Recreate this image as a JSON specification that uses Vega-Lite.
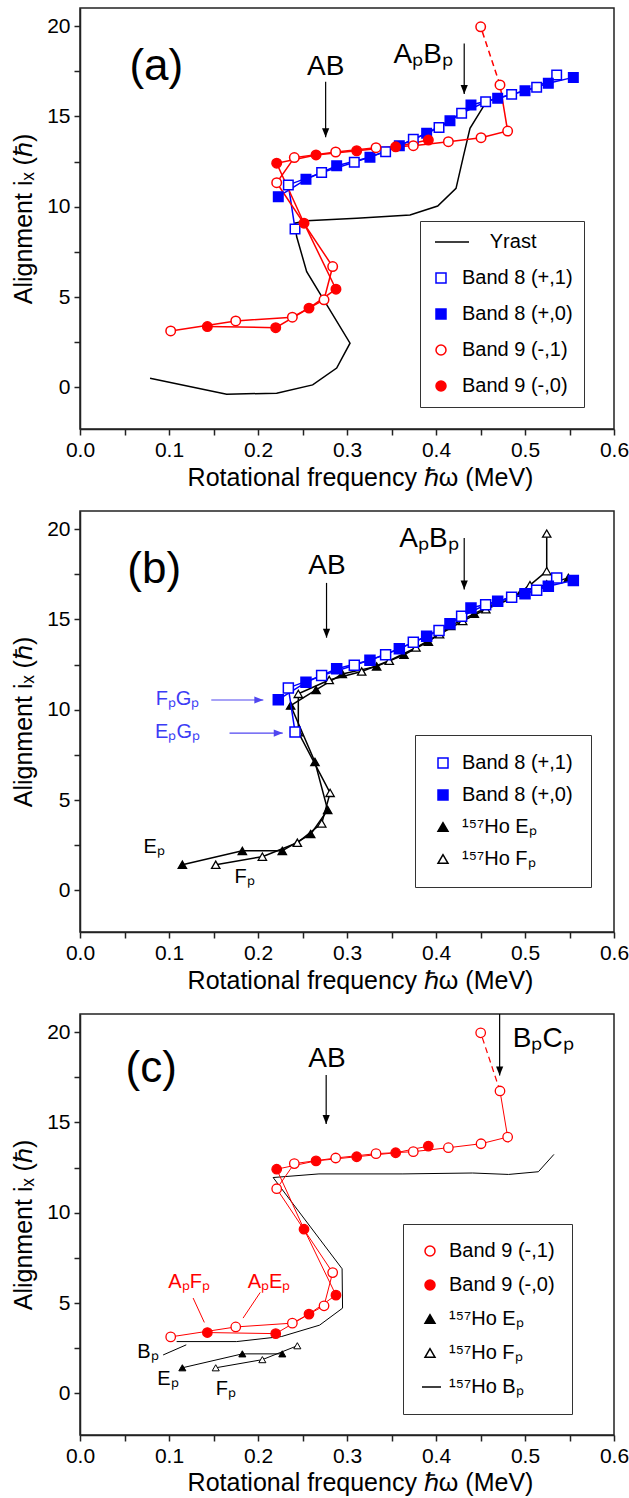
{
"$schema":"https://vega.github.io/schema/vega-lite/v6.json",
"padding":{"left":10,"top":7,"right":5,"bottom":5},
"config":{
 "font":"Liberation Sans",
 "view":{"stroke":"#222222","strokeWidth":1.5},
 "axis":{"domainColor":"#222222","domainWidth":1.5,"tickColor":"#222222","tickWidth":1.5,"tickSize":6,"labelFont":"Liberation Sans","labelFontSize":21,"labelColor":"black","titleFont":"Liberation Sans","titleFontSize":25,"titleFontWeight":"normal","titleColor":"black","grid":false,"labelOverlap":false},
 "legend":{"labelFont":"Liberation Sans","labelFontSize":20,"labelColor":"black","strokeColor":"#333333","fillColor":"white","symbolStrokeWidth":1.5,"labelLimit":300},
 "text":{"font":"Liberation Sans","baseline":"alphabetic"}
},
"datasets":{
 "bands":[
  {"series":"Band 8 (+,1)","i":1,"x":0.2416,"y":8.77,"solid":1,"dash":0},
  {"series":"Band 8 (+,1)","i":2,"x":0.2341,"y":11.21,"solid":1,"dash":0},
  {"series":"Band 8 (+,1)","i":3,"x":0.2715,"y":11.89,"solid":1,"dash":0},
  {"series":"Band 8 (+,1)","i":4,"x":0.3082,"y":12.46,"solid":1,"dash":0},
  {"series":"Band 8 (+,1)","i":5,"x":0.3434,"y":13.05,"solid":1,"dash":0},
  {"series":"Band 8 (+,1)","i":6,"x":0.3745,"y":13.73,"solid":1,"dash":0},
  {"series":"Band 8 (+,1)","i":7,"x":0.4034,"y":14.38,"solid":1,"dash":0},
  {"series":"Band 8 (+,1)","i":8,"x":0.4288,"y":15.17,"solid":1,"dash":0},
  {"series":"Band 8 (+,1)","i":9,"x":0.4558,"y":15.81,"solid":1,"dash":0},
  {"series":"Band 8 (+,1)","i":10,"x":0.4850,"y":16.22,"solid":1,"dash":0},
  {"series":"Band 8 (+,1)","i":11,"x":0.5131,"y":16.61,"solid":1,"dash":0},
  {"series":"Band 8 (+,1)","i":12,"x":0.5356,"y":17.29,"solid":1,"dash":0},
  {"series":"Band 8 (+,0)","i":1,"x":0.2228,"y":10.56,"solid":1,"dash":0},
  {"series":"Band 8 (+,0)","i":2,"x":0.2539,"y":11.52,"solid":1,"dash":0},
  {"series":"Band 8 (+,0)","i":3,"x":0.2884,"y":12.27,"solid":1,"dash":0},
  {"series":"Band 8 (+,0)","i":4,"x":0.3258,"y":12.74,"solid":1,"dash":0},
  {"series":"Band 8 (+,0)","i":5,"x":0.3588,"y":13.38,"solid":1,"dash":0},
  {"series":"Band 8 (+,0)","i":6,"x":0.3895,"y":14.07,"solid":1,"dash":0},
  {"series":"Band 8 (+,0)","i":7,"x":0.4157,"y":14.76,"solid":1,"dash":0},
  {"series":"Band 8 (+,0)","i":8,"x":0.4393,"y":15.63,"solid":1,"dash":0},
  {"series":"Band 8 (+,0)","i":9,"x":0.4693,"y":16.00,"solid":1,"dash":0},
  {"series":"Band 8 (+,0)","i":10,"x":0.5000,"y":16.42,"solid":1,"dash":0},
  {"series":"Band 8 (+,0)","i":11,"x":0.5262,"y":16.83,"solid":1,"dash":0},
  {"series":"Band 8 (+,0)","i":12,"x":0.5543,"y":17.16,"solid":1,"dash":0},
  {"series":"Band 9 (-,1)","i":1,"x":0.1019,"y":3.13,"solid":1,"dash":0},
  {"series":"Band 9 (-,1)","i":2,"x":0.1750,"y":3.68,"solid":1,"dash":0},
  {"series":"Band 9 (-,1)","i":3,"x":0.2386,"y":3.89,"solid":1,"dash":0},
  {"series":"Band 9 (-,1)","i":4,"x":0.2742,"y":4.85,"solid":1,"dash":0},
  {"series":"Band 9 (-,1)","i":5,"x":0.2839,"y":6.69,"solid":1,"dash":0},
  {"series":"Band 9 (-,1)","i":6,"x":0.2210,"y":11.33,"solid":1,"dash":0},
  {"series":"Band 9 (-,1)","i":7,"x":0.2408,"y":12.72,"solid":1,"dash":0},
  {"series":"Band 9 (-,1)","i":8,"x":0.2873,"y":13.03,"solid":1,"dash":0},
  {"series":"Band 9 (-,1)","i":9,"x":0.3326,"y":13.27,"solid":1,"dash":0},
  {"series":"Band 9 (-,1)","i":10,"x":0.3745,"y":13.38,"solid":1,"dash":0},
  {"series":"Band 9 (-,1)","i":11,"x":0.4139,"y":13.60,"solid":1,"dash":0},
  {"series":"Band 9 (-,1)","i":12,"x":0.4506,"y":13.82,"solid":1,"dash":0},
  {"series":"Band 9 (-,1)","i":13,"x":0.4805,"y":14.19,"solid":1,"dash":0},
  {"series":"Band 9 (-,1)","i":14,"x":0.4719,"y":16.74,"solid":1,"dash":1},
  {"series":"Band 9 (-,1)","i":15,"x":0.4502,"y":19.96,"solid":0,"dash":1},
  {"series":"Band 9 (-,0)","i":1,"x":0.1431,"y":3.37,"solid":1,"dash":0},
  {"series":"Band 9 (-,0)","i":2,"x":0.2199,"y":3.31,"solid":1,"dash":0},
  {"series":"Band 9 (-,0)","i":3,"x":0.2573,"y":4.39,"solid":1,"dash":0},
  {"series":"Band 9 (-,0)","i":4,"x":0.2876,"y":5.44,"solid":1,"dash":0},
  {"series":"Band 9 (-,0)","i":5,"x":0.2517,"y":9.09,"solid":1,"dash":0},
  {"series":"Band 9 (-,0)","i":6,"x":0.2210,"y":12.41,"solid":1,"dash":0},
  {"series":"Band 9 (-,0)","i":7,"x":0.2652,"y":12.87,"solid":1,"dash":0},
  {"series":"Band 9 (-,0)","i":8,"x":0.3109,"y":13.10,"solid":1,"dash":0},
  {"series":"Band 9 (-,0)","i":9,"x":0.3547,"y":13.32,"solid":1,"dash":0},
  {"series":"Band 9 (-,0)","i":10,"x":0.3914,"y":13.69,"solid":1,"dash":0}
 ],
 "yrast":[
  {"series":"Yrast","i":1,"x":0.0787,"y":0.51},
  {"series":"Yrast","i":2,"x":0.1648,"y":-0.37},
  {"series":"Yrast","i":3,"x":0.2210,"y":-0.32},
  {"series":"Yrast","i":4,"x":0.2614,"y":0.14},
  {"series":"Yrast","i":5,"x":0.2884,"y":1.07},
  {"series":"Yrast","i":6,"x":0.3034,"y":2.45},
  {"series":"Yrast","i":7,"x":0.2547,"y":6.41},
  {"series":"Yrast","i":8,"x":0.2434,"y":8.35},
  {"series":"Yrast","i":9,"x":0.2416,"y":9.09},
  {"series":"Yrast","i":10,"x":0.2547,"y":9.22},
  {"series":"Yrast","i":11,"x":0.3110,"y":9.36},
  {"series":"Yrast","i":12,"x":0.3708,"y":9.55},
  {"series":"Yrast","i":13,"x":0.4019,"y":10.04},
  {"series":"Yrast","i":14,"x":0.4225,"y":11.02},
  {"series":"Yrast","i":15,"x":0.4307,"y":12.77},
  {"series":"Yrast","i":16,"x":0.4382,"y":14.34},
  {"series":"Yrast","i":17,"x":0.4532,"y":15.54}
 ],
 "ho157":[
  {"series":"¹⁵⁷Ho Eₚ","i":1,"x":0.1150,"y":1.42},
  {"series":"¹⁵⁷Ho Eₚ","i":2,"x":0.1824,"y":2.19},
  {"series":"¹⁵⁷Ho Eₚ","i":3,"x":0.2273,"y":2.19},
  {"series":"¹⁵⁷Ho Eₚ","i":4,"x":0.2592,"y":3.12},
  {"series":"¹⁵⁷Ho Eₚ","i":5,"x":0.2783,"y":4.45},
  {"series":"¹⁵⁷Ho Eₚ","i":6,"x":0.2640,"y":7.11},
  {"series":"¹⁵⁷Ho Eₚ","i":7,"x":0.2367,"y":10.23},
  {"series":"¹⁵⁷Ho Eₚ","i":8,"x":0.2652,"y":11.10},
  {"series":"¹⁵⁷Ho Eₚ","i":9,"x":0.2947,"y":11.98},
  {"series":"¹⁵⁷Ho Eₚ","i":10,"x":0.3333,"y":12.40},
  {"series":"¹⁵⁷Ho Eₚ","i":11,"x":0.3640,"y":13.04},
  {"series":"¹⁵⁷Ho Eₚ","i":12,"x":0.3914,"y":13.77},
  {"series":"¹⁵⁷Ho Eₚ","i":13,"x":0.4165,"y":14.64},
  {"series":"¹⁵⁷Ho Eₚ","i":14,"x":0.4430,"y":15.32},
  {"series":"¹⁵⁷Ho Eₚ","i":15,"x":0.4680,"y":15.92},
  {"series":"¹⁵⁷Ho Eₚ","i":16,"x":0.4950,"y":16.47},
  {"series":"¹⁵⁷Ho Eₚ","i":17,"x":0.5244,"y":16.94},
  {"series":"¹⁵⁷Ho Eₚ","i":18,"x":0.5487,"y":17.30},
  {"series":"¹⁵⁷Ho Fₚ","i":1,"x":0.1525,"y":1.42},
  {"series":"¹⁵⁷Ho Fₚ","i":2,"x":0.2049,"y":1.87},
  {"series":"¹⁵⁷Ho Fₚ","i":3,"x":0.2442,"y":2.64},
  {"series":"¹⁵⁷Ho Fₚ","i":4,"x":0.2716,"y":3.71},
  {"series":"¹⁵⁷Ho Fₚ","i":5,"x":0.2810,"y":5.40},
  {"series":"¹⁵⁷Ho Fₚ","i":6,"x":0.2453,"y":8.75},
  {"series":"¹⁵⁷Ho Fₚ","i":7,"x":0.2453,"y":10.88},
  {"series":"¹⁵⁷Ho Fₚ","i":8,"x":0.2800,"y":11.65},
  {"series":"¹⁵⁷Ho Fₚ","i":9,"x":0.3165,"y":12.12},
  {"series":"¹⁵⁷Ho Fₚ","i":10,"x":0.3475,"y":12.71},
  {"series":"¹⁵⁷Ho Fₚ","i":11,"x":0.3775,"y":13.44},
  {"series":"¹⁵⁷Ho Fₚ","i":12,"x":0.4040,"y":14.18},
  {"series":"¹⁵⁷Ho Fₚ","i":13,"x":0.4300,"y":14.91},
  {"series":"¹⁵⁷Ho Fₚ","i":14,"x":0.4560,"y":15.56},
  {"series":"¹⁵⁷Ho Fₚ","i":15,"x":0.4850,"y":16.16},
  {"series":"¹⁵⁷Ho Fₚ","i":16,"x":0.5056,"y":16.90},
  {"series":"¹⁵⁷Ho Fₚ","i":17,"x":0.5244,"y":17.67},
  {"series":"¹⁵⁷Ho Fₚ","i":18,"x":0.5244,"y":19.75}
 ],
 "ho157Bp":[
  {"series":"¹⁵⁷Ho Bₚ","i":1,"x":0.1086,"y":2.87},
  {"series":"¹⁵⁷Ho Bₚ","i":2,"x":0.1760,"y":2.87},
  {"series":"¹⁵⁷Ho Bₚ","i":3,"x":0.2265,"y":3.15},
  {"series":"¹⁵⁷Ho Bₚ","i":4,"x":0.2692,"y":3.78},
  {"series":"¹⁵⁷Ho Bₚ","i":5,"x":0.2950,"y":4.72},
  {"series":"¹⁵⁷Ho Bₚ","i":6,"x":0.2945,"y":6.90},
  {"series":"¹⁵⁷Ho Bₚ","i":7,"x":0.2170,"y":11.95},
  {"series":"¹⁵⁷Ho Bₚ","i":8,"x":0.2685,"y":12.15},
  {"series":"¹⁵⁷Ho Bₚ","i":9,"x":0.3628,"y":12.15},
  {"series":"¹⁵⁷Ho Bₚ","i":10,"x":0.4410,"y":12.20},
  {"series":"¹⁵⁷Ho Bₚ","i":11,"x":0.4815,"y":12.12},
  {"series":"¹⁵⁷Ho Bₚ","i":12,"x":0.5150,"y":12.27},
  {"series":"¹⁵⁷Ho Bₚ","i":13,"x":0.5325,"y":13.23}
 ],
 "panelTags":[
  {"panel":"a","x":0.0857,"y":17.01,"text":"(a)"},
  {"panel":"b","x":0.0834,"y":17.02,"text":"(b)"},
  {"panel":"c","x":0.0800,"y":17.22,"text":"(c)"}
 ],
 "crossings":[
  {"panel":"a","x":0.2760,"y":17.29,"text":"AB"},
  {"panel":"a","x":0.3857,"y":17.94,"text":"AₚBₚ"},
  {"panel":"b","x":0.2774,"y":17.52,"text":"AB"},
  {"panel":"b","x":0.3920,"y":18.99,"text":"AₚBₚ"},
  {"panel":"c","x":0.2775,"y":18.09,"text":"AB"},
  {"panel":"c","x":0.5204,"y":19.17,"text":"BₚCₚ"}
 ],
 "arrows":[
  {"panel":"a","x":0.2760,"y":13.84,"ytop":16.92},
  {"panel":"a","x":0.4317,"y":16.24,"ytop":19.04},
  {"panel":"b","x":0.2770,"y":13.99,"ytop":17.02},
  {"panel":"b","x":0.4317,"y":16.66,"ytop":19.50},
  {"panel":"c","x":0.2766,"y":14.91,"ytop":17.63},
  {"panel":"c","x":0.4715,"y":17.59,"ytop":21.0}
 ],
 "configArrows":[
  {"panel":"b","x":0.2060,"xtail":0.1475,"y":10.54},
  {"panel":"b","x":0.2278,"xtail":0.1680,"y":8.71}
 ],
 "configLabels":[
  {"panel":"b","x":0.1096,"y":10.29,"text":"FₚGₚ"},
  {"panel":"b","x":0.1096,"y":8.45,"text":"EₚGₚ"}
 ],
 "hoLabels":[
  {"panel":"b","x":0.0834,"y":2.09,"text":"Eₚ"},
  {"panel":"b","x":0.1850,"y":0.40,"text":"Fₚ"},
  {"panel":"c","x":0.0763,"y":1.94,"text":"Bₚ"},
  {"panel":"c","x":0.0988,"y":0.46,"text":"Eₚ"},
  {"panel":"c","x":0.1639,"y":-0.09,"text":"Fₚ"}
 ],
 "band9Labels":[
  {"panel":"c","x":0.1226,"y":5.83,"text":"AₚFₚ"},
  {"panel":"c","x":0.2124,"y":5.83,"text":"AₚEₚ"}
 ],
 "band9Leaders":[
  {"panel":"c","x":0.1271,"y":5.28,"x2":0.1397,"y2":3.93},
  {"panel":"c","x":0.2025,"y":5.59,"x2":0.1832,"y2":4.17}
 ],
 "hoLeaders":[
  {"panel":"c","x":0.0934,"y":2.13,"x2":0.1194,"y2":2.69}
 ]
},
"spacing":82,
"bounds":"flush",
"resolve":{"scale":{"stroke":"independent","fill":"independent","shape":"independent"}},
"vconcat":[
 {
  "width":534,"height":421,
  "encoding":{
   "x":{"field":"x","type":"quantitative","title":"Rotational frequency  ℏω (MeV)","scale":{"domain":[0,0.6],"nice":false,"zero":false},"axis":{"values":[0,0.05,0.1,0.15,0.2,0.25,0.3,0.35,0.4,0.45,0.5,0.55,0.6],"labelExpr":"round(datum.value*100) % 10 === 0 ? format(datum.value, '.1f') : ''","labelFlush":false,"labelPadding":4,"titlePadding":5,"titleX":280}},
   "y":{"field":"y","type":"quantitative","title":"Alignment  iₓ (ℏ)","scale":{"domain":[-2.3,21],"nice":false,"zero":false},"axis":{"values":[0,2.5,5,7.5,10,12.5,15,17.5,20],"labelExpr":"datum.value % 5 === 0 ? format(datum.value, 'd') : ''","labelPadding":4,"titlePadding":10}}
  },
  "layer":[
   {"data":{"name":"yrast"},"mark":{"type":"line","strokeWidth":1.5},"encoding":{"order":{"field":"i","type":"quantitative"},"stroke":{"field":"series","type":"nominal","scale":{"domain":["Yrast","Band 8 (+,1)","Band 8 (+,0)","Band 9 (-,1)","Band 9 (-,0)"],"range":["black","#0000ff","#0000ff","#ff0000","#ff0000"]},"legend":{"orient":"none","legendX":340,"legendY":213,"title":null,"padding":11,"labelOffset":11,"rowPadding":16,"symbolSize":100,"labelExpr":"datum.label === 'Yrast' ? '\u200b\u00a0\u00a0\u00a0\u00a0\u00a0Yrast' : datum.label"}}}},
   {"data":{"name":"bands"},"transform":[{"filter":"datum.solid === 1"}],"mark":{"type":"line","strokeWidth":1.5},"encoding":{"order":{"field":"i","type":"quantitative"},"stroke":{"field":"series","type":"nominal","scale":{"domain":["Yrast","Band 8 (+,1)","Band 8 (+,0)","Band 9 (-,1)","Band 9 (-,0)"],"range":["black","#0000ff","#0000ff","#ff0000","#ff0000"]},"legend":{"orient":"none","legendX":340,"legendY":213,"title":null,"padding":11,"labelOffset":11,"rowPadding":16,"symbolSize":100,"labelExpr":"datum.label === 'Yrast' ? '\u200b\u00a0\u00a0\u00a0\u00a0\u00a0Yrast' : datum.label"}}}},
   {"data":{"name":"bands"},"transform":[{"filter":"datum.dash === 1"}],"mark":{"type":"line","strokeWidth":1.5,"strokeDash":[6,4],"color":"#ff0000"},"encoding":{"order":{"field":"i","type":"quantitative"}}},
   {"data":{"name":"bands"},"mark":{"type":"point","filled":true,"size":90,"strokeWidth":1.5,"opacity":1},"encoding":{
     "stroke":{"field":"series","type":"nominal","scale":{"domain":["Yrast","Band 8 (+,1)","Band 8 (+,0)","Band 9 (-,1)","Band 9 (-,0)"],"range":["black","#0000ff","#0000ff","#ff0000","#ff0000"]},"legend":{"orient":"none","legendX":340,"legendY":213,"title":null,"padding":11,"labelOffset":11,"rowPadding":16,"symbolSize":100,"labelExpr":"datum.label === 'Yrast' ? '\u200b\u00a0\u00a0\u00a0\u00a0\u00a0Yrast' : datum.label"}},
     "fill":{"field":"series","type":"nominal","scale":{"domain":["Yrast","Band 8 (+,1)","Band 8 (+,0)","Band 9 (-,1)","Band 9 (-,0)"],"range":["black","white","#0000ff","white","#ff0000"]},"legend":{"orient":"none","legendX":340,"legendY":213,"title":null,"padding":11,"labelOffset":11,"rowPadding":16,"symbolSize":100,"labelExpr":"datum.label === 'Yrast' ? '\u200b\u00a0\u00a0\u00a0\u00a0\u00a0Yrast' : datum.label"}},
     "shape":{"field":"series","type":"nominal","scale":{"domain":["Yrast","Band 8 (+,1)","Band 8 (+,0)","Band 9 (-,1)","Band 9 (-,0)"],"range":["M-1.2,0L5.6,0","square","square","circle","circle"]},"legend":{"orient":"none","legendX":340,"legendY":213,"title":null,"padding":11,"labelOffset":11,"rowPadding":16,"symbolSize":100,"labelExpr":"datum.label === 'Yrast' ? '\u200b\u00a0\u00a0\u00a0\u00a0\u00a0Yrast' : datum.label"}}
   }},
   {"data":{"name":"arrows"},"transform":[{"filter":"datum.panel === 'a'"}],"mark":{"type":"rule","color":"black","strokeWidth":1.2},"encoding":{"y2":{"field":"ytop"}}},
   {"data":{"name":"arrows"},"transform":[{"filter":"datum.panel === 'a'"}],"mark":{"type":"point","shape":"M-0.4,-1L0.4,-1L0,0Z","filled":true,"color":"black","size":324,"opacity":1},"encoding":{}},
   {"data":{"name":"panelTags"},"transform":[{"filter":"datum.panel === 'a'"}],"mark":{"type":"text","fontSize":44,"align":"center","baseline":"alphabetic","color":"black"},"encoding":{"text":{"field":"text","type":"nominal"}}},
   {"data":{"name":"crossings"},"transform":[{"filter":"datum.panel === 'a'"}],"mark":{"type":"text","fontSize":28,"align":"center","baseline":"alphabetic","color":"black"},"encoding":{"text":{"field":"text","type":"nominal"}}}
  ]
 },
 {
  "width":534,"height":421,
  "encoding":{
   "x":{"field":"x","type":"quantitative","title":"Rotational frequency  ℏω (MeV)","scale":{"domain":[0,0.6],"nice":false,"zero":false},"axis":{"values":[0,0.05,0.1,0.15,0.2,0.25,0.3,0.35,0.4,0.45,0.5,0.55,0.6],"labelExpr":"round(datum.value*100) % 10 === 0 ? format(datum.value, '.1f') : ''","labelFlush":false,"labelPadding":4,"titlePadding":5,"titleX":280}},
   "y":{"field":"y","type":"quantitative","title":"Alignment  iₓ (ℏ)","scale":{"domain":[-2.3,21],"nice":false,"zero":false},"axis":{"values":[0,2.5,5,7.5,10,12.5,15,17.5,20],"labelExpr":"datum.value % 5 === 0 ? format(datum.value, 'd') : ''","labelPadding":4,"titlePadding":10}}
  },
  "layer":[
   {"data":{"name":"ho157"},"mark":{"type":"line","strokeWidth":1.5},"encoding":{"order":{"field":"i","type":"quantitative"},"stroke":{"field":"series","type":"nominal","scale":{"domain":["Band 8 (+,1)","Band 8 (+,0)","¹⁵⁷Ho Eₚ","¹⁵⁷Ho Fₚ"],"range":["#0000ff","#0000ff","black","black"]},"legend":{"orient":"none","legendX":335,"legendY":224,"title":null,"padding":18,"labelOffset":9,"rowPadding":12,"symbolSize":100}}}},
   {"data":{"name":"ho157"},"mark":{"type":"point","filled":true,"size":70,"strokeWidth":1.3,"opacity":1},"encoding":{
     "stroke":{"field":"series","type":"nominal","scale":{"domain":["Band 8 (+,1)","Band 8 (+,0)","¹⁵⁷Ho Eₚ","¹⁵⁷Ho Fₚ"],"range":["#0000ff","#0000ff","black","black"]},"legend":{"orient":"none","legendX":335,"legendY":224,"title":null,"padding":18,"labelOffset":9,"rowPadding":12,"symbolSize":100}},
     "fill":{"field":"series","type":"nominal","scale":{"domain":["Band 8 (+,1)","Band 8 (+,0)","¹⁵⁷Ho Eₚ","¹⁵⁷Ho Fₚ"],"range":["white","#0000ff","black","white"]},"legend":{"orient":"none","legendX":335,"legendY":224,"title":null,"padding":18,"labelOffset":9,"rowPadding":12,"symbolSize":100}},
     "shape":{"field":"series","type":"nominal","scale":{"domain":["Band 8 (+,1)","Band 8 (+,0)","¹⁵⁷Ho Eₚ","¹⁵⁷Ho Fₚ"],"range":["square","square","triangle-up","triangle-up"]},"legend":{"orient":"none","legendX":335,"legendY":224,"title":null,"padding":18,"labelOffset":9,"rowPadding":12,"symbolSize":100}}
   }},
   {"data":{"name":"bands"},"transform":[{"filter":"indexof(datum.series, 'Band 8') === 0"}],"mark":{"type":"line","strokeWidth":1.5},"encoding":{"order":{"field":"i","type":"quantitative"},"stroke":{"field":"series","type":"nominal","scale":{"domain":["Band 8 (+,1)","Band 8 (+,0)","¹⁵⁷Ho Eₚ","¹⁵⁷Ho Fₚ"],"range":["#0000ff","#0000ff","black","black"]},"legend":{"orient":"none","legendX":335,"legendY":224,"title":null,"padding":18,"labelOffset":9,"rowPadding":12,"symbolSize":100}}}},
   {"data":{"name":"bands"},"transform":[{"filter":"indexof(datum.series, 'Band 8') === 0"}],"mark":{"type":"point","filled":true,"size":100,"strokeWidth":1.5,"opacity":1},"encoding":{
     "stroke":{"field":"series","type":"nominal","scale":{"domain":["Band 8 (+,1)","Band 8 (+,0)","¹⁵⁷Ho Eₚ","¹⁵⁷Ho Fₚ"],"range":["#0000ff","#0000ff","black","black"]},"legend":{"orient":"none","legendX":335,"legendY":224,"title":null,"padding":18,"labelOffset":9,"rowPadding":12,"symbolSize":100}},
     "fill":{"field":"series","type":"nominal","scale":{"domain":["Band 8 (+,1)","Band 8 (+,0)","¹⁵⁷Ho Eₚ","¹⁵⁷Ho Fₚ"],"range":["white","#0000ff","black","white"]},"legend":{"orient":"none","legendX":335,"legendY":224,"title":null,"padding":18,"labelOffset":9,"rowPadding":12,"symbolSize":100}},
     "shape":{"field":"series","type":"nominal","scale":{"domain":["Band 8 (+,1)","Band 8 (+,0)","¹⁵⁷Ho Eₚ","¹⁵⁷Ho Fₚ"],"range":["square","square","triangle-up","triangle-up"]},"legend":{"orient":"none","legendX":335,"legendY":224,"title":null,"padding":18,"labelOffset":9,"rowPadding":12,"symbolSize":100}}
   }},
   {"data":{"name":"arrows"},"transform":[{"filter":"datum.panel === 'b'"}],"mark":{"type":"rule","color":"black","strokeWidth":1.2},"encoding":{"y2":{"field":"ytop"}}},
   {"data":{"name":"arrows"},"transform":[{"filter":"datum.panel === 'b'"}],"mark":{"type":"point","shape":"M-0.4,-1L0.4,-1L0,0Z","filled":true,"color":"black","size":324,"opacity":1},"encoding":{}},
   {"data":{"name":"configArrows"},"transform":[{"filter":"datum.panel === 'b'"}],"mark":{"type":"rule","color":"#5046f0","strokeWidth":1.2},"encoding":{"x2":{"field":"xtail"}}},
   {"data":{"name":"configArrows"},"transform":[{"filter":"datum.panel === 'b'"}],"mark":{"type":"point","shape":"M-1,-0.4L-1,0.4L0,0Z","filled":true,"color":"#5046f0","size":324,"opacity":1},"encoding":{}},
   {"data":{"name":"configLabels"},"transform":[{"filter":"datum.panel === 'b'"}],"mark":{"type":"text","fontSize":20,"align":"center","baseline":"alphabetic","color":"#3c3cf5"},"encoding":{"text":{"field":"text","type":"nominal"}}},
   {"data":{"name":"hoLabels"},"transform":[{"filter":"datum.panel === 'b'"}],"mark":{"type":"text","fontSize":20,"align":"center","baseline":"alphabetic","color":"black"},"encoding":{"text":{"field":"text","type":"nominal"}}},
   {"data":{"name":"panelTags"},"transform":[{"filter":"datum.panel === 'b'"}],"mark":{"type":"text","fontSize":44,"align":"center","baseline":"alphabetic","color":"black"},"encoding":{"text":{"field":"text","type":"nominal"}}},
   {"data":{"name":"crossings"},"transform":[{"filter":"datum.panel === 'b'"}],"mark":{"type":"text","fontSize":28,"align":"center","baseline":"alphabetic","color":"black"},"encoding":{"text":{"field":"text","type":"nominal"}}}
  ]
 },
 {
  "width":534,"height":421,
  "encoding":{
   "x":{"field":"x","type":"quantitative","title":"Rotational frequency  ℏω (MeV)","scale":{"domain":[0,0.6],"nice":false,"zero":false},"axis":{"values":[0,0.05,0.1,0.15,0.2,0.25,0.3,0.35,0.4,0.45,0.5,0.55,0.6],"labelExpr":"round(datum.value*100) % 10 === 0 ? format(datum.value, '.1f') : ''","labelFlush":false,"labelPadding":4,"titlePadding":4,"titleX":280}},
   "y":{"field":"y","type":"quantitative","title":"Alignment  iₓ (ℏ)","scale":{"domain":[-2.3,21],"nice":false,"zero":false},"axis":{"values":[0,2.5,5,7.5,10,12.5,15,17.5,20],"labelExpr":"datum.value % 5 === 0 ? format(datum.value, 'd') : ''","labelPadding":4,"titlePadding":10}}
  },
  "layer":[
   {"data":{"name":"ho157Bp"},"mark":{"type":"line","strokeWidth":1},"encoding":{"order":{"field":"i","type":"quantitative"},"stroke":{"field":"series","type":"nominal","scale":{"domain":["Band 9 (-,1)","Band 9 (-,0)","¹⁵⁷Ho Eₚ","¹⁵⁷Ho Fₚ","¹⁵⁷Ho Bₚ"],"range":["#ff0000","#ff0000","black","black","black"]},"legend":{"orient":"none","legendX":323,"legendY":210,"title":null,"padding":17,"labelOffset":9,"rowPadding":14,"symbolSize":100}}}},
   {"data":{"name":"ho157"},"transform":[{"filter":"datum.i <= 3"}],"mark":{"type":"line","strokeWidth":1},"encoding":{"order":{"field":"i","type":"quantitative"},"stroke":{"field":"series","type":"nominal","scale":{"domain":["Band 9 (-,1)","Band 9 (-,0)","¹⁵⁷Ho Eₚ","¹⁵⁷Ho Fₚ","¹⁵⁷Ho Bₚ"],"range":["#ff0000","#ff0000","black","black","black"]},"legend":{"orient":"none","legendX":323,"legendY":210,"title":null,"padding":17,"labelOffset":9,"rowPadding":14,"symbolSize":100}}}},
   {"data":{"name":"ho157"},"transform":[{"filter":"datum.i <= 3"}],"mark":{"type":"point","filled":true,"size":50,"strokeWidth":1,"opacity":1},"encoding":{
     "stroke":{"field":"series","type":"nominal","scale":{"domain":["Band 9 (-,1)","Band 9 (-,0)","¹⁵⁷Ho Eₚ","¹⁵⁷Ho Fₚ","¹⁵⁷Ho Bₚ"],"range":["#ff0000","#ff0000","black","black","black"]},"legend":{"orient":"none","legendX":323,"legendY":210,"title":null,"padding":17,"labelOffset":9,"rowPadding":14,"symbolSize":100}},
     "fill":{"field":"series","type":"nominal","scale":{"domain":["Band 9 (-,1)","Band 9 (-,0)","¹⁵⁷Ho Eₚ","¹⁵⁷Ho Fₚ","¹⁵⁷Ho Bₚ"],"range":["white","#ff0000","black","white","black"]},"legend":{"orient":"none","legendX":323,"legendY":210,"title":null,"padding":17,"labelOffset":9,"rowPadding":14,"symbolSize":100}},
     "shape":{"field":"series","type":"nominal","scale":{"domain":["Band 9 (-,1)","Band 9 (-,0)","¹⁵⁷Ho Eₚ","¹⁵⁷Ho Fₚ","¹⁵⁷Ho Bₚ"],"range":["circle","circle","triangle-up","triangle-up","M-1.6,0L2.2,0"]},"legend":{"orient":"none","legendX":323,"legendY":210,"title":null,"padding":17,"labelOffset":9,"rowPadding":14,"symbolSize":100}}
   }},
   {"data":{"name":"bands"},"transform":[{"filter":"indexof(datum.series, 'Band 9') === 0 && datum.solid === 1"}],"mark":{"type":"line","strokeWidth":1},"encoding":{"order":{"field":"i","type":"quantitative"},"stroke":{"field":"series","type":"nominal","scale":{"domain":["Band 9 (-,1)","Band 9 (-,0)","¹⁵⁷Ho Eₚ","¹⁵⁷Ho Fₚ","¹⁵⁷Ho Bₚ"],"range":["#ff0000","#ff0000","black","black","black"]},"legend":{"orient":"none","legendX":323,"legendY":210,"title":null,"padding":17,"labelOffset":9,"rowPadding":14,"symbolSize":100}}}},
   {"data":{"name":"bands"},"transform":[{"filter":"datum.dash === 1"}],"mark":{"type":"line","strokeWidth":1.2,"strokeDash":[6,4],"color":"#ff0000"},"encoding":{"order":{"field":"i","type":"quantitative"}}},
   {"data":{"name":"bands"},"transform":[{"filter":"indexof(datum.series, 'Band 9') === 0"}],"mark":{"type":"point","filled":true,"size":90,"strokeWidth":1.3,"opacity":1},"encoding":{
     "stroke":{"field":"series","type":"nominal","scale":{"domain":["Band 9 (-,1)","Band 9 (-,0)","¹⁵⁷Ho Eₚ","¹⁵⁷Ho Fₚ","¹⁵⁷Ho Bₚ"],"range":["#ff0000","#ff0000","black","black","black"]},"legend":{"orient":"none","legendX":323,"legendY":210,"title":null,"padding":17,"labelOffset":9,"rowPadding":14,"symbolSize":100}},
     "fill":{"field":"series","type":"nominal","scale":{"domain":["Band 9 (-,1)","Band 9 (-,0)","¹⁵⁷Ho Eₚ","¹⁵⁷Ho Fₚ","¹⁵⁷Ho Bₚ"],"range":["white","#ff0000","black","white","black"]},"legend":{"orient":"none","legendX":323,"legendY":210,"title":null,"padding":17,"labelOffset":9,"rowPadding":14,"symbolSize":100}},
     "shape":{"field":"series","type":"nominal","scale":{"domain":["Band 9 (-,1)","Band 9 (-,0)","¹⁵⁷Ho Eₚ","¹⁵⁷Ho Fₚ","¹⁵⁷Ho Bₚ"],"range":["circle","circle","triangle-up","triangle-up","M-1.6,0L2.2,0"]},"legend":{"orient":"none","legendX":323,"legendY":210,"title":null,"padding":17,"labelOffset":9,"rowPadding":14,"symbolSize":100}}
   }},
   {"data":{"name":"arrows"},"transform":[{"filter":"datum.panel === 'c'"}],"mark":{"type":"rule","color":"black","strokeWidth":1.2},"encoding":{"y2":{"field":"ytop"}}},
   {"data":{"name":"arrows"},"transform":[{"filter":"datum.panel === 'c'"}],"mark":{"type":"point","shape":"M-0.4,-1L0.4,-1L0,0Z","filled":true,"color":"black","size":324,"opacity":1},"encoding":{}},
   {"data":{"name":"band9Leaders"},"transform":[{"filter":"datum.panel === 'c'"}],"mark":{"type":"rule","color":"#ff0000","strokeWidth":1},"encoding":{"x2":{"field":"x2"},"y2":{"field":"y2"}}},
   {"data":{"name":"hoLeaders"},"transform":[{"filter":"datum.panel === 'c'"}],"mark":{"type":"rule","color":"black","strokeWidth":1},"encoding":{"x2":{"field":"x2"},"y2":{"field":"y2"}}},
   {"data":{"name":"band9Labels"},"transform":[{"filter":"datum.panel === 'c'"}],"mark":{"type":"text","fontSize":20,"align":"center","baseline":"alphabetic","color":"#ff0000"},"encoding":{"text":{"field":"text","type":"nominal"}}},
   {"data":{"name":"hoLabels"},"transform":[{"filter":"datum.panel === 'c'"}],"mark":{"type":"text","fontSize":20,"align":"center","baseline":"alphabetic","color":"black"},"encoding":{"text":{"field":"text","type":"nominal"}}},
   {"data":{"name":"panelTags"},"transform":[{"filter":"datum.panel === 'c'"}],"mark":{"type":"text","fontSize":44,"align":"center","baseline":"alphabetic","color":"black"},"encoding":{"text":{"field":"text","type":"nominal"}}},
   {"data":{"name":"crossings"},"transform":[{"filter":"datum.panel === 'c'"}],"mark":{"type":"text","fontSize":28,"align":"center","baseline":"alphabetic","color":"black"},"encoding":{"text":{"field":"text","type":"nominal"}}}
  ]
 }
]
}
